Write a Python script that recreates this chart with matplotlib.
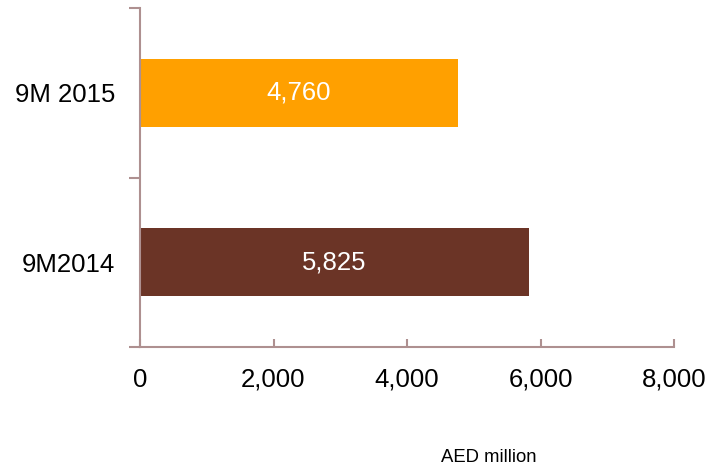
import matplotlib.pyplot as plt

plt.rcParams['font.family'] = ['Liberation Sans', 'DejaVu Sans']

# Revenue by period, AED million
periods = ["9M2014", "9M 2015"]
values = [5825, 4760]
colors = ["#6B3426", "#FFA000"]
xticks = [0, 2000, 4000, 6000, 8000]

axis_col = "#AE9090"

fig = plt.figure(figsize=(7.13, 4.65), dpi=100)
ax = fig.add_axes([140 / 713, 118 / 465, 534 / 713, 339 / 465])

pos = list(range(len(periods)))
bars = ax.barh(pos, values, height=0.4, color=colors)
for b, v in zip(bars, values):
    ax.text(v / 2, b.get_y() + b.get_height() / 2, f"{v:,}",
            ha="center", va="center", color="white", fontsize=18.5)

ax.set_xlim(0, 8000)
ax.set_ylim(-0.5, len(periods) - 0.5)
ax.set_xticks(xticks)
ax.set_xticklabels([f"{t:,}" for t in xticks])
ax.set_yticks(pos)
ax.set_yticklabels(periods)
ax.set_yticks([-0.5, 0.5, 1.5], minor=True)

for s in ["top", "right"]:
    ax.spines[s].set_visible(False)
for s in ["left", "bottom"]:
    ax.spines[s].set_color(axis_col)
    ax.spines[s].set_linewidth(1.5)

ax.tick_params(axis="x", direction="in", length=6, width=1.5, color=axis_col,
               labelsize=18.5, pad=15)
ax.tick_params(axis="y", which="major", length=0, labelsize=18.5, pad=18)
ax.tick_params(axis="y", which="minor", direction="out", length=8, width=1.5,
               color=axis_col)

fig.text(489 / 713, 1 - 457 / 465, "AED million", ha="center", va="center",
         fontsize=13.3)

fig.savefig("out.png", dpi=100)
